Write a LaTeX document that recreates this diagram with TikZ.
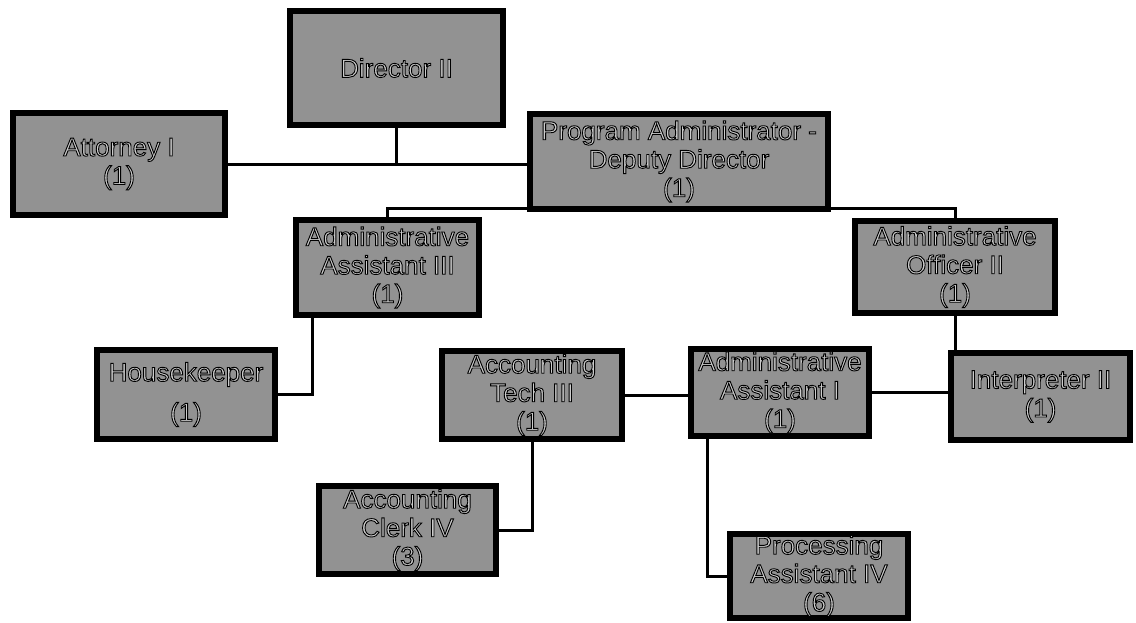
\documentclass[tikz,border=0pt]{standalone}
\usepackage{fontspec}
\setmainfont{Liberation Sans}
\newfontfamily\postfont[FakeBold=3.5]{Liberation Sans}
\usetikzlibrary{positioning, backgrounds}

\definecolor{boxgray}{RGB}{146,146,146}
% light letters with a dark outline
\def\endembossed{\special{pdf:ecolor}}
\def\embossed{\special{pdf:bcolor [0.8] [0]}\aftergroup\endembossed}

\begin{document}
\begin{tikzpicture}[x=1pt, y=-1pt, every node/.style={scale=1}]
            \tikzset{
                post/.style={
                        rectangle, draw, fill=boxgray, line width=6pt, align=center, inner sep=0pt,
                        font=\postfont\fontsize{26}{28.5}\selectfont\embossed
                    },
                link/.style={line width=3pt}
            }
            \useasboundingbox (0,0) rectangle (1136,622);

            % Top of the chart
            \node[post, minimum width=213pt, minimum height=114pt] (dir) at (396.5,68) {Director II};
            \node[post, minimum width=212pt, minimum height=102pt] (att) at (119,164) {Attorney I\\(1)};
            \node[post, minimum width=298pt, minimum height=95pt] (pa) at (679,161.5) {Program Administrator -\\Deputy Director\\(1)};

            % Second row
            \node[post, minimum width=183pt, minimum height=95pt] (aa3) at (387.5,267.5) {Administrative\\Assistant III\\(1)};
            \node[post, minimum width=200pt, minimum height=92pt] (ao2) at (955,267) {Administrative\\Officer II\\(1)};

            % Third row
            \node[post, minimum width=178pt, minimum height=89pt] (hk) at (186,394.5) {Housekeeper\\[11.5pt](1)};
            \node[post, minimum width=180pt, minimum height=88pt] (at3) at (532,395) {Accounting\\Tech III\\(1)};
            \node[post, minimum width=178pt, minimum height=87pt] (aa1) at (780,392.5) {Administrative\\Assistant I\\(1)};
            \node[post, minimum width=179pt, minimum height=87pt] (ip) at (1040.5,396.5) {Interpreter II\\(1)};

            % Bottom row
            \node[post, minimum width=177pt, minimum height=88pt] (ac4) at (407.5,530) {Accounting\\Clerk IV\\(3)};
            \node[post, minimum width=178pt, minimum height=84pt] (pr4) at (819,576) {Processing\\Assistant IV\\(6)};

            % Lines behind the boxes
            \begin{scope}[on background layer]
                \coordinate (split) at (679,208);
                \draw[link] (att.east) -- (att.east -| pa.west);
                \draw[link] (dir.south) -- (dir.south |- att.east);
                \draw[link] (aa3.north) -- (aa3.north |- split) -- (ao2.north |- split) -- (ao2.north);
                \draw[link] ([xshift=-75.5pt]aa3.south) |- (hk.east);
                \draw[link] (at3.east) -- (at3.east -| aa1.west);
                \draw[link] (aa1.east) -- (aa1.east -| ip.west);
                \draw[link] (ao2.south) -- (ao2.south |- ip.north);
                \draw[link] (at3.south) |- (ac4.east);
                \draw[link] ([xshift=-73pt]aa1.south) |- (pr4.west);
            \end{scope}
        \end{tikzpicture}
\end{document}
